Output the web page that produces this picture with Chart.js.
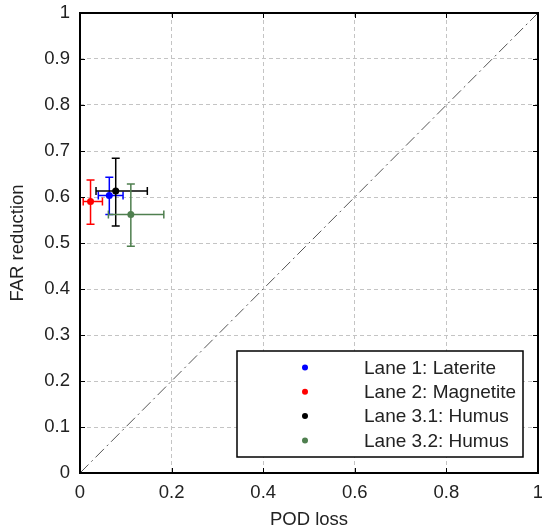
<!DOCTYPE html>
<html>
<head>
<meta charset="utf-8">
<script src="https://cdn.jsdelivr.net/npm/chart.js@4/dist/chart.umd.min.js"></script>
<style>
  html, body { margin: 0; padding: 0; background: #fff; }
  #wrap { width: 542px; height: 532px; }
</style>
</head>
<body>
<div id="wrap"><canvas id="chart" width="542" height="532"></canvas></div>
<script>
// ─── Data ────────────────────────────────────────────────────────────────────
const laneLabels = ['Lane 1: Laterite', 'Lane 2: Magnetite', 'Lane 3.1: Humus', 'Lane 3.2: Humus'];
const laneColors = ['#0000ff', '#ff0000', '#000000', '#4f7f4f'];
const podLoss  = [0.064, 0.023, 0.078, 0.111];
const farRed   = [0.603, 0.590, 0.613, 0.562];
const podLow   = [0.040, 0.007, 0.035, 0.062];
const podHigh  = [0.094, 0.049, 0.147, 0.183];
const farLow   = [0.562, 0.541, 0.537, 0.493];
const farHigh  = [0.643, 0.637, 0.684, 0.628];
const diagX    = [0, 1];
const diagY    = [0, 1];

const FONT = 'Liberation Sans, Arial, sans-serif';

// ─── Datasets ────────────────────────────────────────────────────────────────
const datasets = laneLabels.map((lbl, i) => ({
  label: lbl,
  data: [{ x: podLoss[i], y: farRed[i] }],
  backgroundColor: laneColors[i],
  borderColor: laneColors[i],
  pointRadius: 3.5,
  pointBorderWidth: 0,
  errX: [podLow[i], podHigh[i]],
  errY: [farLow[i], farHigh[i]]
}));
datasets.unshift({
  label: 'diag',
  type: 'line',
  data: diagX.map((x, i) => ({ x: x, y: diagY[i] })),
  borderColor: '#555555',
  borderWidth: 1,
  borderDash: [12, 4, 2, 4],
  pointRadius: 0,
  fill: false
});

// ─── Error bars, drawn through the scales ───────────────────────────────────
const errorBars = {
  id: 'errorBars',
  beforeDatasetsDraw(chart) {
    const { ctx, scales: { x, y } } = chart;
    ctx.save();
    chart.data.datasets.forEach(ds => {
      if (!ds.errX) return;
      const p = ds.data[0];
      const cx = x.getPixelForValue(p.x), cy = y.getPixelForValue(p.y);
      const x0 = x.getPixelForValue(ds.errX[0]), x1 = x.getPixelForValue(ds.errX[1]);
      const y0 = y.getPixelForValue(ds.errY[0]), y1 = y.getPixelForValue(ds.errY[1]);
      const cap = 4;
      ctx.strokeStyle = ds.borderColor;
      ctx.lineWidth = 1.5;
      ctx.beginPath();
      ctx.moveTo(x0, cy); ctx.lineTo(x1, cy);
      ctx.moveTo(x0, cy - cap); ctx.lineTo(x0, cy + cap);
      ctx.moveTo(x1, cy - cap); ctx.lineTo(x1, cy + cap);
      ctx.moveTo(cx, y0); ctx.lineTo(cx, y1);
      ctx.moveTo(cx - cap, y0); ctx.lineTo(cx + cap, y0);
      ctx.moveTo(cx - cap, y1); ctx.lineTo(cx + cap, y1);
      ctx.stroke();
    });
    ctx.restore();
  }
};

// ─── Frame with inward ticks + legend box ───────────────────────────────────
const frameAndLegend = {
  id: 'frameAndLegend',
  afterDatasetsDraw(chart) {
    const { ctx, chartArea: a, scales: { x, y } } = chart;
    ctx.save();
    ctx.strokeStyle = '#000';
    ctx.lineWidth = 1;
    const tl = 5;
    ctx.beginPath();
    x.ticks.forEach(t => {
      const px = Math.round(x.getPixelForValue(t.value)) + 0.5;
      ctx.moveTo(px, a.bottom); ctx.lineTo(px, a.bottom - tl);
      ctx.moveTo(px, a.top); ctx.lineTo(px, a.top + tl);
    });
    y.ticks.forEach(t => {
      const py = Math.round(y.getPixelForValue(t.value)) + 0.5;
      ctx.moveTo(a.left, py); ctx.lineTo(a.left + tl, py);
      ctx.moveTo(a.right, py); ctx.lineTo(a.right - tl, py);
    });
    ctx.stroke();
    ctx.lineWidth = 2;
    ctx.strokeRect(a.left, a.top, a.right - a.left, a.bottom - a.top);

    // legend
    const lw = 286, lh = 106;
    const lx = a.right - 15 - lw, ly = a.bottom - 16 - lh;
    ctx.fillStyle = '#fff';
    ctx.fillRect(lx, ly, lw, lh);
    ctx.lineWidth = 1.5;
    ctx.strokeRect(lx, ly, lw, lh);
    ctx.font = '19px ' + FONT;
    ctx.textBaseline = 'middle';
    ctx.textAlign = 'left';
    laneLabels.forEach((lbl, i) => {
      const ry = ly + 16.5 + i * 24.3;
      ctx.fillStyle = laneColors[i];
      ctx.beginPath();
      ctx.arc(lx + 68, ry, 3, 0, Math.PI * 2);
      ctx.fill();
      ctx.fillStyle = '#222';
      ctx.fillText(lbl, lx + 127, ry + 1);
    });
    ctx.restore();
  }
};

// ─── Chart ───────────────────────────────────────────────────────────────────
Chart.defaults.font.family = FONT;
Chart.defaults.font.size = 18.5;
Chart.defaults.color = '#222';

const fmtTick = v => String(Math.round(v * 10) / 10);

new Chart(document.getElementById('chart').getContext('2d'), {
  type: 'scatter',
  data: { datasets: datasets },
  options: {
    responsive: false,
    animation: false,
    layout: { padding: { top: 13, right: 2, left: 0, bottom: 0 } },
    plugins: {
      legend: { display: false },
      tooltip: { enabled: false }
    },
    scales: {
      x: {
        type: 'linear',
        min: 0, max: 1,
        ticks: { stepSize: 0.2, padding: 9, maxRotation: 0, callback: fmtTick },
        grid: { color: '#c4c4c4', drawTicks: false, lineWidth: 1 },
        border: { display: false, dash: [4, 3] },
        title: { display: true, text: 'POD loss', padding: { top: 1, bottom: 1 } },
        afterFit(s) { s.height = 59; s.paddingLeft = 0; s.paddingRight = 0; }
      },
      y: {
        type: 'linear',
        min: 0, max: 1,
        ticks: { stepSize: 0.1, padding: 10, callback: fmtTick },
        grid: { color: '#c4c4c4', drawTicks: false, lineWidth: 1 },
        border: { display: false, dash: [4, 3] },
        title: { display: true, text: 'FAR reduction', padding: { top: 7, bottom: 1 } },
        afterFit(s) { s.width = 80; s.paddingTop = 0; s.paddingBottom = 0; }
      }
    }
  },
  plugins: [errorBars, frameAndLegend]
});
</script>
</body>
</html>
